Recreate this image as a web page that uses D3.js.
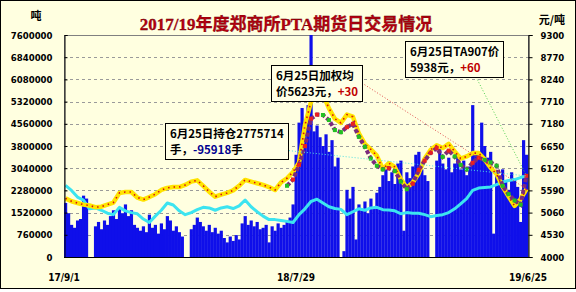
<!DOCTYPE html>
<html>
<head>
<meta charset="utf-8">
<script src="https://cdn.jsdelivr.net/npm/d3@7"></script>
<style>
  body { margin: 0; background: #fff; }
  svg text { font-family: "DejaVu Sans Condensed", "DejaVu Sans", sans-serif; }
</style>
</head>
<body>
<svg id="chart" width="576" height="292"></svg>
<script>
const titleText = "2017/19年度郑商所PTA期货日交易情况";
const leftUnit = "吨";
const rightUnit = "元/吨";

const xTickLabels = ["17/9/1", "18/7/29", "19/6/25"];
const xTickIndex = [0, 77, 154];

const leftTicks = [0, 760000, 1520000, 2280000, 3040000, 3800000, 4560000, 5320000, 6080000, 6840000, 7600000];
const rightTicks = [4000, 4530, 5060, 5590, 6120, 6650, 7180, 7710, 8240, 8770, 9300];

// daily volume, grouped in ~3 day bins, in 10k lots
const volumeWan = [
  185, 150, 110, 100, 125, 130, 210, 200, 0, 0,
  105, 120, 95, 125, 110, 140, 160, 130, 170, 150,
  180, 140, 160, 110, 100, 90, 105, 85, 145, 100,
  110, 80, 115, 95, 140, 125, 90, 105, 85, 70,
  0, 0, 95, 110, 135, 120, 105, 90, 110, 85,
  100, 80, 90, 65, 50, 70, 55, 75, 60, 115,
  140, 110, 125, 105, 120, 95, 100, 110, 50, 105,
  90, 115, 100, 110, 125, 135, 180, 350, 460, 510,
  460, 520, 760, 430, 450, 410, 380, 420, 360, 400,
  310, 340, 0, 20, 230, 200, 240, 60, 180, 160,
  190, 150, 200, 170, 220, 240, 280, 300, 260, 290,
  250, 320, 330, 90, 290, 270, 310, 350, 360, 300,
  280, 260, 0, 0, 330, 370, 320, 300, 340, 290,
  320, 350, 300, 330, 280, 310, 520, 360, 360, 460,
  380, 340, 360, 80, 280, 250, 300, 260, 230, 290,
  270, 240, 120, 400, 350
];

// line series are read every 2 bins
const lineStep = 2;

// open interest, 10k lots
const openInterestWan = [
  245, 228, 205, 195, 165, 168, 160, 150, 145, 170,
  158, 152, 148, 130, 118, 140, 160, 185, 178, 158,
  145, 152, 162, 170, 168, 160, 168, 172, 166, 175,
  195, 172, 155, 140, 128, 128, 125, 122, 118, 145,
  165, 190, 198, 185, 172, 166, 163, 145, 155, 165,
  160, 168, 170, 162, 161, 158, 148, 152, 150, 150,
  145, 138, 142, 145, 152, 165, 182, 200, 228, 236,
  238, 240, 248, 257, 262, 265, 272, 277.5714
];

// weighted average price
const avgPrice = [
  5400, 5330, 5290, 5250, 5230, 5190, 5200, 5250, 5300, 5528,
  5550, 5552, 5420, 5370, 5430, 5500, 5600, 5650, 5670, 5670,
  5720, 5800, 5830, 5700, 5560, 5440, 5490, 5530, 5590, 5700,
  5840, 5800, 5760, 5720, 5670, 5600, 5780, 5880, 6030, 6250,
  7150, 7700, 7900, 7880, 7550, 7300, 7200, 7400, 7350, 6950,
  6700, 6570, 6420, 6100, 6240, 6150, 5860, 5650, 5780, 6000,
  6350, 6560, 6670, 6600, 6700, 6520, 6350, 6400, 6480, 6480,
  6330, 6130, 5980, 5680, 5450, 5220, 5380, 5623
];

// TA907 close, listed from bin 74
const ta907Start = 74;
const ta907Price = [
  5700, 5850, 6200, 6650, 7300, 7400, 7390, 7270, 7030, 6980,
  7100, 7180, 6870, 6630, 6350, 6180, 6090, 6120, 6050, 5800,
  5620, 5750, 6080, 6300, 6490, 6600, 6390, 6540, 6400, 6200,
  6090, 6250, 6370, 6315, 6260, 6180, 5700, 5500, 5350, 5250,
  5938
];

const plot = { left: 64, right: 528, top: 35, bottom: 257 };
const bg = "#FFFFE0";

const svg = d3.select("#chart");

svg.append("rect")
  .attr("x", 0.5).attr("y", 0.5)
  .attr("width", 575).attr("height", 288)
  .attr("fill", bg)
  .attr("stroke", "#000");

const x = d3.scaleBand()
  .domain(d3.range(volumeWan.length))
  .range([plot.left, plot.right])
  .padding(0);
const xc = i => x(i) + x.bandwidth() / 2;

const yLeft = d3.scaleLinear().domain([0, 7600000]).range([plot.bottom, plot.top]);
const yRight = d3.scaleLinear().domain([4000, 9300]).range([plot.bottom, plot.top]);

// gridlines
svg.append("g")
  .selectAll("line")
  .data(leftTicks.slice(1, -1))
  .join("line")
  .attr("x1", plot.left).attr("x2", plot.right)
  .attr("y1", d => Math.round(yLeft(d)) + 0.5)
  .attr("y2", d => Math.round(yLeft(d)) + 0.5)
  .attr("stroke", "#9a9a9a")
  .attr("stroke-dasharray", "3,3");

svg.append("rect")
  .attr("x", plot.left + 0.5).attr("y", plot.top + 0.5)
  .attr("width", plot.right - plot.left).attr("height", plot.bottom - plot.top)
  .attr("fill", "none")
  .attr("stroke", "#808080");

// volume bars
svg.append("g")
  .selectAll("rect")
  .data(volumeWan)
  .join("rect")
  .attr("x", (d, i) => x(i))
  .attr("width", x.bandwidth() + 0.2)
  .attr("y", d => yLeft(d * 10000))
  .attr("height", d => yLeft(0) - yLeft(d * 10000))
  .attr("fill", "#0F0FEA");

const stepLine = (start, scale) => d3.line()
  .x((d, i) => xc(start + i * lineStep))
  .y(d => scale(d));

// open interest
svg.append("path")
  .datum(openInterestWan)
  .attr("d", d3.line()
    .x((d, i) => xc(i * lineStep))
    .y(d => yLeft(d * 10000)))
  .attr("fill", "none")
  .attr("stroke", "#3CE4F0")
  .attr("stroke-width", 3)
  .attr("stroke-linejoin", "round");

// weighted average
svg.append("path")
  .datum(avgPrice)
  .attr("d", stepLine(0, yRight))
  .attr("fill", "none")
  .attr("stroke", "#FFE400")
  .attr("stroke-width", 4.5)
  .attr("stroke-linejoin", "round");

svg.append("path")
  .datum(avgPrice)
  .attr("d", stepLine(0, yRight))
  .attr("fill", "none")
  .attr("stroke", "#D81010")
  .attr("stroke-width", 1.6)
  .attr("stroke-dasharray", "1.5,4");

// TA907
svg.append("path")
  .datum(ta907Price)
  .attr("d", stepLine(ta907Start, yRight))
  .attr("fill", "none")
  .attr("stroke", "#7B2A7B")
  .attr("stroke-width", 4)
  .attr("stroke-dasharray", "4,2");

svg.append("g")
  .selectAll("rect")
  .data(ta907Price)
  .join("rect")
  .attr("x", (d, i) => xc(ta907Start + i * lineStep) - 2)
  .attr("y", d => yRight(d) - 2)
  .attr("width", 4).attr("height", 4)
  .attr("fill", (d, i) => i > 0 && d >= ta907Price[i - 1] ? "#E82020" : "#22C022");

// axes
const leftAxis = svg.append("g")
  .attr("transform", `translate(${plot.left + 0.5},0)`)
  .call(d3.axisLeft(yLeft).tickValues(leftTicks).tickSize(-3).tickPadding(12)
    .tickFormat(d3.format("d")));
const rightAxis = svg.append("g")
  .attr("transform", `translate(${plot.right + 0.5},0)`)
  .call(d3.axisRight(yRight).tickValues(rightTicks).tickSize(4).tickPadding(8)
    .tickFormat(d3.format("d")));
svg.append("line")
  .attr("x1", plot.left).attr("x2", plot.right + 1)
  .attr("y1", plot.bottom + 0.5).attr("y2", plot.bottom + 0.5)
  .attr("stroke", "#000");

[leftAxis, rightAxis].forEach(g => {
  g.select(".domain").attr("stroke", "#000");
  g.selectAll(".tick line").attr("stroke", "#000");
  g.selectAll(".tick text")
    .attr("font-size", 9.5)
    .attr("font-weight", "bold")
    .attr("fill", "#000")
    .style("font-family", '"DejaVu Sans Condensed", "DejaVu Sans", sans-serif');
});

svg.append("g")
  .selectAll("text")
  .data(xTickLabels)
  .join("text")
  .attr("x", (d, i) => i === 0 ? plot.left : i === xTickLabels.length - 1 ? plot.right : xc(xTickIndex[i]))
  .attr("y", 281)
  .attr("text-anchor", "middle")
  .attr("font-size", 10)
  .attr("font-weight", "bold")
  .text(d => d);

// title and units
svg.append("text")
  .attr("x", 286).attr("y", 30)
  .attr("text-anchor", "middle")
  .attr("font-size", 17)
  .attr("font-weight", "bold")
  .attr("fill", "#B80010")
  .attr("stroke", "#600000")
  .attr("stroke-width", 0.3)
  .style("font-family", '"Liberation Serif", "Noto Sans CJK SC", serif')
  .text(titleText);

svg.append("text")
  .attr("x", 36).attr("y", 20)
  .attr("text-anchor", "middle")
  .attr("font-size", 11)
  .attr("font-weight", "bold")
  .style("font-family", '"Noto Sans CJK SC", sans-serif')
  .text(leftUnit);

svg.append("text")
  .attr("x", 552).attr("y", 24)
  .attr("text-anchor", "middle")
  .attr("font-size", 11)
  .attr("font-weight", "bold")
  .style("font-family", '"Noto Sans CJK SC", sans-serif')
  .text(rightUnit);

// callouts
const lastIndex = volumeWan.length - 1;
const leaders = [
  { from: [362, 83], to: [xc(lastIndex), yRight(avgPrice[avgPrice.length - 1])], color: "#E05050" },
  { from: [476, 77], to: [xc(lastIndex), yRight(ta907Price[ta907Price.length - 1])], color: "#50D050" },
  { from: [283, 150], to: [xc(lastIndex), yLeft(openInterestWan[openInterestWan.length - 1] * 10000)], color: "#50E0E0" }
];
svg.append("g")
  .selectAll("line")
  .data(leaders)
  .join("line")
  .attr("x1", d => d.from[0]).attr("y1", d => d.from[1])
  .attr("x2", d => d.to[0]).attr("y2", d => d.to[1])
  .attr("stroke", d => d.color)
  .attr("stroke-width", 1)
  .attr("stroke-dasharray", "1,2");

const callouts = [
  { x: 271, y: 65, lines: [[["6月25日加权均", "#000"]], [["价5623元，", "#000"], ["+30", "#C00000"]]] },
  { x: 405, y: 41, lines: [[["6月25日TA907价", "#000"]], [["5938元，", "#000"], ["+60", "#C00000"]]] },
  { x: 165, y: 123, lines: [[["6月25日持仓2775714", "#000"]], [["手，", "#000"], ["-95918", "#000090"], ["手", "#000"]]] }
];

callouts.forEach(c => {
  const g = svg.append("g").attr("transform", `translate(${c.x},${c.y})`);
  const box = g.append("rect").attr("fill", "#FFFFE6").attr("stroke", "#000");
  const texts = c.lines.map((parts, li) => {
    const t = g.append("text")
      .attr("x", 5)
      .attr("y", 15 + li * 16)
      .attr("font-size", 11.5)
      .attr("font-weight", "bold")
      .style("font-family", '"Noto Sans CJK SC", sans-serif');
    parts.forEach(([s, col]) => t.append("tspan").attr("fill", col).text(s));
    return t;
  });
  const w = d3.max(texts, t => t.node().getComputedTextLength()) + 9;
  box.attr("x", 0.5).attr("y", 0.5).attr("width", Math.round(w)).attr("height", 36);
});
</script>
</body>
</html>
